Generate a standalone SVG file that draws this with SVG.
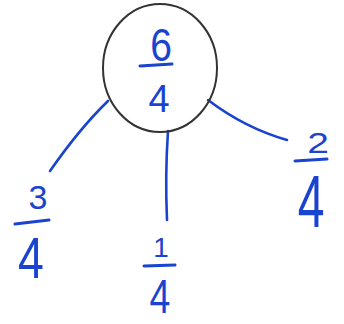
<svg xmlns="http://www.w3.org/2000/svg" width="344" height="324" viewBox="0 0 344 324">
<style>
.t{font-family:"Liberation Sans","DejaVu Sans",sans-serif;fill:#1a44d0;text-anchor:middle}
.bar{stroke:#1a44d0;stroke-width:3;stroke-linecap:round;fill:none}
.c{stroke:#1a44d0;stroke-width:2.6;stroke-linecap:round;fill:none}
</style>
<rect width="344" height="324" fill="#fff"/>
<g id="connectors">
<path class="c" d="M108,101 Q80,128 50,171"/>
<path class="c" d="M168,131 Q165,175 167,220"/>
<path class="c" d="M208,100 Q245,128 287,140"/>
</g>
<g id="root">
<ellipse cx="160" cy="68" rx="57" ry="64" fill="none" stroke="#333" stroke-width="2"/>
<text class="t" font-size="46" transform="translate(161,61) scale(0.85,1)">6</text>
<path class="bar" d="M140,66 L172,64"/>
<text class="t" font-size="38" transform="translate(159,112)">4</text>
</g>
<g id="left">
<text class="t" font-size="34" transform="translate(38,209)">3</text>
<path class="bar" d="M15,224 L49,220"/>
<text class="t" font-size="58" transform="translate(31,278) scale(0.8,1)">4</text>
</g>
<g id="middle">
<text class="t" font-size="28" transform="translate(161,257)">1</text>
<path class="bar" d="M144,266 L175,265"/>
<text class="t" font-size="48" transform="translate(160,313) scale(0.78,1)">4</text>
</g>
<g id="right">
<text class="t" font-size="30" transform="translate(318,153) scale(1.3,1)">2</text>
<path class="bar" d="M295,161 L327,159"/>
<text class="t" font-size="74" transform="translate(311,227) scale(0.65,1)">4</text>
</g>
</svg>
